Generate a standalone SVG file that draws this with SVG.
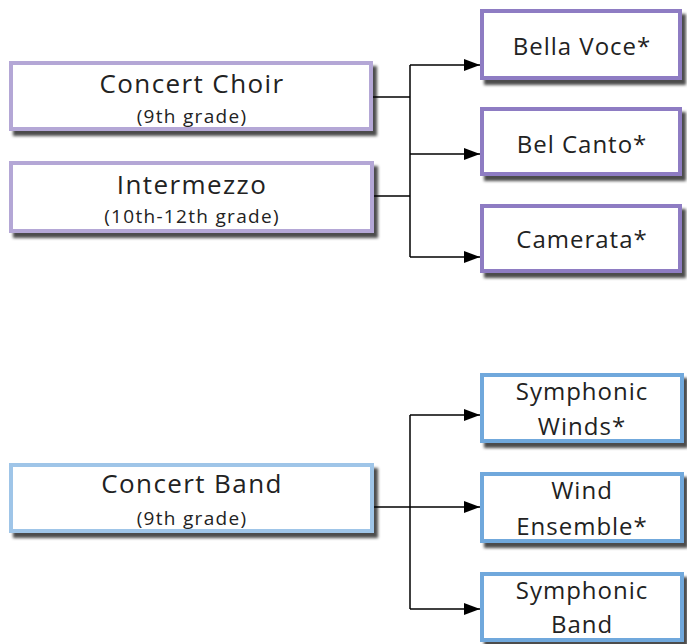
<svg xmlns="http://www.w3.org/2000/svg" width="687" height="644" viewBox="0 0 687 644">
<style>
.box{fill:#fff;stroke-width:4}
.lp{stroke:#b4a7d6}
.rp{stroke:#8e7cc3}
.lb{stroke:#9fc5e8}
.rb{stroke:#6fa8dc}
.t{font-family:"Open Sans",Lato,sans-serif;fill:#222;text-anchor:middle}
.big{font-size:26px;letter-spacing:1.4px}
.sm{font-size:19px;letter-spacing:1.3px}
.mid{font-size:24px;letter-spacing:1px}
.c{fill:none;stroke:#000;stroke-width:1.5}
</style>
<defs>
<filter id="sh" x="-10%" y="-20%" width="130%" height="150%">
<feDropShadow dx="4" dy="5" stdDeviation="1.6" flood-color="#000" flood-opacity="0.7"/>
</filter>
<marker id="ah" markerWidth="16" markerHeight="12" refX="16" refY="6" orient="auto" markerUnits="userSpaceOnUse">
<path d="M0,0 L16,6 L0,12 z" fill="#000"/>
</marker>
</defs>
<g id="connectors">
<path class="c" d="M373,97 H410"/>
<path class="c" d="M373,196 H410"/>
<path class="c" d="M410,65 V257"/>
<path class="c" d="M410,65 H480" marker-end="url(#ah)"/>
<path class="c" d="M410,154 H480" marker-end="url(#ah)"/>
<path class="c" d="M410,257 H480" marker-end="url(#ah)"/>
<path class="c" d="M373,507 H480" marker-end="url(#ah)"/>
<path class="c" d="M410,415 V609"/>
<path class="c" d="M410,415 H480" marker-end="url(#ah)"/>
<path class="c" d="M410,609 H480" marker-end="url(#ah)"/>
</g>
<g id="concert-choir">
<rect class="box lp" x="11" y="63" width="360" height="66" filter="url(#sh)"/>
<text class="t big" x="192" y="93">Concert Choir</text>
<text class="t sm" x="192" y="123">(9th grade)</text>
</g>
<g id="intermezzo">
<rect class="box lp" x="11" y="163" width="361" height="68" filter="url(#sh)"/>
<text class="t big" x="192" y="194">Intermezzo</text>
<text class="t sm" x="192" y="223">(10th-12th grade)</text>
</g>
<g id="bella-voce">
<rect class="box rp" x="482" y="11" width="198" height="67" filter="url(#sh)"/>
<text class="t mid" x="582" y="55">Bella Voce*</text>
</g>
<g id="bel-canto">
<rect class="box rp" x="482" y="109" width="198" height="65" filter="url(#sh)"/>
<text class="t mid" x="582" y="153">Bel Canto*</text>
</g>
<g id="camerata">
<rect class="box rp" x="482" y="206" width="198" height="65" filter="url(#sh)"/>
<text class="t mid" x="582" y="248">Camerata*</text>
</g>
<g id="concert-band">
<rect class="box lb" x="11" y="465" width="361" height="66" filter="url(#sh)"/>
<text class="t big" x="192" y="493">Concert Band</text>
<text class="t sm" x="192" y="525">(9th grade)</text>
</g>
<g id="symphonic-winds">
<rect class="box rb" x="482" y="375" width="200" height="66" filter="url(#sh)"/>
<text class="t mid" x="582" y="400">Symphonic</text>
<text class="t mid" x="582" y="435">Winds*</text>
</g>
<g id="wind-ensemble">
<rect class="box rb" x="482" y="474" width="200" height="67" filter="url(#sh)"/>
<text class="t mid" x="582" y="499">Wind</text>
<text class="t mid" x="582" y="535">Ensemble*</text>
</g>
<g id="symphonic-band">
<rect class="box rb" x="482" y="574" width="200" height="66" filter="url(#sh)"/>
<text class="t mid" x="582" y="599">Symphonic</text>
<text class="t mid" x="582" y="633">Band</text>
</g>
</svg>
